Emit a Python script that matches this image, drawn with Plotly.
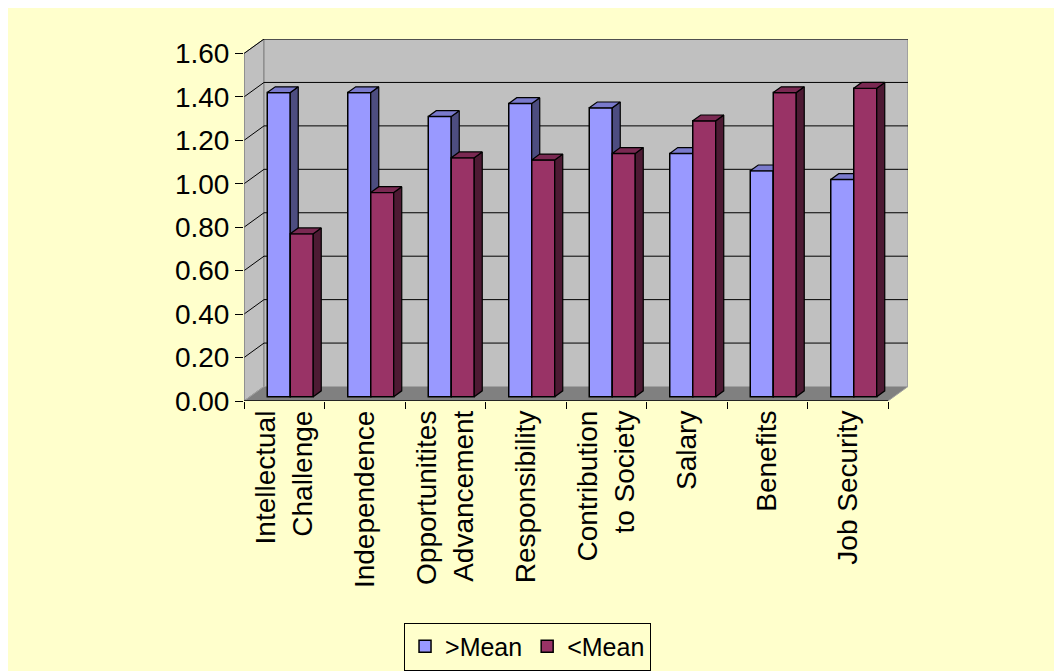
import plotly.graph_objects as go

# ---- data -------------------------------------------------------------
categories = [
    "Intellectual<br>Challenge",
    "Independence",
    "Opportunitites<br>Advancement",
    "Responsibility",
    "Contribution<br>to Society",
    "Salary",
    "Benefits",
    "Job Security",
]
above_mean = [1.40, 1.40, 1.29, 1.35, 1.33, 1.12, 1.04, 1.00]
below_mean = [0.75, 0.94, 1.10, 1.09, 1.12, 1.27, 1.40, 1.42]
series_names = [">Mean", "<Mean"]
y_ticks = [0.0, 0.2, 0.4, 0.6, 0.8, 1.0, 1.2, 1.4, 1.6]

# ---- styling / pseudo-3D geometry --------------------------------------
FONT = "Liberation Sans, Arial, sans-serif"
BG = "#FFFFCC"
WALL = "#C0C0C0"
FLOOR = "#808080"
EDGE = "#808080"
front_cols = ["#9999FF", "#993366"]
top_cols = ["#7A7ACC", "#7A2952"]
side_cols = ["#4D4D80", "#4D1A33"]

n = len(categories)
y_max = y_ticks[-1]
DX = 0.2484          # full depth offset along x (category units)
DY = 0.0667          # full depth offset along y (value units)
Z0, Z1 = 0.30, 0.70  # bar front / back depth fractions
BW = 1 / 3.5         # bar width (gap width 150%)
x_max = n + DX
y_top = y_max + DY

base = Z0 * DY
sx, sy = (Z1 - Z0) * DX, (Z1 - Z0) * DY


def bar_centers(k):
    off = -BW / 2 if k == 0 else BW / 2
    return [i + 0.5 + off + Z0 * DX for i in range(n)]


def faces(centers, values):
    side_x, side_y, top_x, top_y = [], [], [], []
    for c, v in zip(centers, values):
        xl, xr = c - BW / 2, c + BW / 2
        t = v + base
        side_x += [xr, xr + sx, xr + sx, xr, xr, None]
        side_y += [base, base + sy, t + sy, t, base, None]
        top_x += [xl, xr, xr + sx, xl + sx, xl, None]
        top_y += [t, t, t + sy, t + sy, t, None]
    return side_x, side_y, top_x, top_y


fig = go.Figure()
axes = [("x", "y"), ("x2", "y2")]
for k, vals in enumerate([above_mean, below_mean]):
    xa, ya = axes[k]
    cx = bar_centers(k)
    fig.add_trace(go.Bar(
        x=cx, y=vals, base=base, width=BW, name=series_names[k],
        marker=dict(color=front_cols[k], line=dict(color="black", width=1.5)),
        xaxis=xa, yaxis=ya, hoverinfo="skip",
    ))
    sxs, sys_, txs, tys = faces(cx, vals)
    fig.add_trace(go.Scatter(
        x=sxs, y=sys_, mode="lines", fill="toself", fillcolor=side_cols[k],
        line=dict(color="black", width=1.2), showlegend=False,
        xaxis=xa, yaxis=ya, hoverinfo="skip",
    ))
    fig.add_trace(go.Scatter(
        x=txs, y=tys, mode="lines", fill="toself", fillcolor=top_cols[k],
        line=dict(color="black", width=1.2), showlegend=False,
        xaxis=xa, yaxis=ya, hoverinfo="skip",
    ))

# ---- walls, floor and gridlines ----------------------------------------
shapes = []
# left wall
shapes.append(dict(type="path", xref="x", yref="y", layer="below",
                   path=f"M0,0 L{DX},{DY} L{DX},{y_top} L0,{y_max} Z",
                   fillcolor=WALL, line=dict(color=EDGE, width=1)))
# back wall
shapes.append(dict(type="rect", xref="x", yref="y", layer="below",
                   x0=DX, y0=DY, x1=n + DX, y1=y_top,
                   fillcolor=WALL, line=dict(color=EDGE, width=1)))
# floor
shapes.append(dict(type="path", xref="x", yref="y", layer="below",
                   path=f"M0,0 L{n},0 L{n + DX},{DY} L{DX},{DY} Z",
                   fillcolor=FLOOR, line=dict(color="#A0A0A0", width=1)))
# gridlines on back and left walls
for v in y_ticks[1:]:
    shapes.append(dict(type="line", xref="x", yref="y", layer="below",
                       x0=DX, y0=v + DY, x1=n + DX, y1=v + DY,
                       line=dict(color="black", width=1)))
    shapes.append(dict(type="line", xref="x", yref="y", layer="below",
                       x0=0, y0=v, x1=DX, y1=v + DY,
                       line=dict(color="black", width=1)))
# front axis edges
shapes.append(dict(type="line", xref="x", yref="y", layer="below",
                   x0=0, y0=0, x1=0, y1=y_max, line=dict(color=EDGE, width=1)))
shapes.append(dict(type="line", xref="x", yref="y", layer="below",
                   x0=0, y0=0, x1=n, y1=0, line=dict(color="black", width=1.5)))
# white page strips at the top and left edges
shapes.append(dict(type="rect", xref="paper", yref="paper", layer="below",
                   x0=-1, x1=2, y0=1 + 31 / 362, y1=1.5,
                   fillcolor="white", line=dict(width=0)))
shapes.append(dict(type="rect", xref="paper", yref="paper", layer="below",
                   x0=-1, x1=-236 / 664, y0=-1, y1=1.5,
                   fillcolor="white", line=dict(width=0)))

fig.update_layout(
    width=1054, height=671,
    margin=dict(l=244, r=146, t=39, b=270, autoexpand=False),
    paper_bgcolor=BG, plot_bgcolor="rgba(0,0,0,0)",
    barmode="overlay", shapes=shapes,
    font=dict(family=FONT, color="black"),
    xaxis=dict(range=[0, x_max], tickvals=list(range(n + 1)),
               showticklabels=False, ticks="outside", ticklen=7,
               tickcolor="black", tickwidth=1, automargin=False,
               showgrid=False, zeroline=False, showline=False, fixedrange=True),
    xaxis2=dict(range=[0, x_max], overlaying="x", side="bottom",
                tickvals=[i + 0.5 for i in range(n)], ticktext=categories,
                tickangle=-90, ticks="", tickfont=dict(size=28, family=FONT),
                ticklabelstandoff=3, automargin=False,
                showgrid=False, zeroline=False, showline=False, fixedrange=True),
    yaxis=dict(range=[0, y_top], tickvals=y_ticks,
               ticktext=[f"{v:.2f}" for v in y_ticks],
               ticks="outside", ticklen=8, tickcolor="black", tickwidth=1,
               tickfont=dict(size=28, family=FONT), automargin=False,
               showgrid=False, zeroline=False, showline=False, fixedrange=True),
    yaxis2=dict(range=[0, y_top], overlaying="y", visible=False,
                fixedrange=True, automargin=False),
    legend=dict(orientation="h", x=0.427, xanchor="center",
                y=-0.612, yanchor="top",
                bgcolor=BG, bordercolor="black", borderwidth=1,
                font=dict(size=25, family=FONT), itemwidth=30,
                traceorder="normal"),
)

fig.write_html("out.html")
